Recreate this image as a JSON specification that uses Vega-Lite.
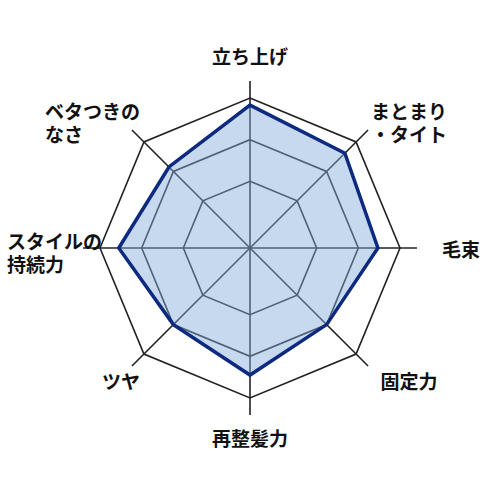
{
  "$schema": "https://vega.github.io/schema/vega-lite/v6.json",
  "width": 500,
  "height": 500,
  "autosize": "none",
  "padding": 0,
  "config": {
    "view": {"stroke": null},
    "text": {"font": "Noto Sans CJK JP", "fontWeight": "bold", "fontSize": 19, "lineHeight": 23, "color": "#111", "baseline": "middle"}
  },
  "datasets": {
    "axes": [
      {"i": 0, "label": "立ち上げ"},
      {"i": 1, "label": ["まとまり", "・タイト"]},
      {"i": 2, "label": "毛束"},
      {"i": 3, "label": "固定力"},
      {"i": 4, "label": "再整髪力"},
      {"i": 5, "label": "ツヤ"},
      {"i": 6, "label": ["スタイルの", "持続力"]},
      {"i": 7, "label": ["ベタつきの", "なさ"]}
    ],
    "scores": [
      {"i": 0, "score": 4.83},
      {"i": 1, "score": 4.62},
      {"i": 2, "score": 4.47},
      {"i": 3, "score": 4.0},
      {"i": 4, "score": 4.45},
      {"i": 5, "score": 4.0},
      {"i": 6, "score": 4.55},
      {"i": 7, "score": 4.15}
    ],
    "rings": [
      {"level": 3, "i": 0}, {"level": 3, "i": 1}, {"level": 3, "i": 2}, {"level": 3, "i": 3},
      {"level": 3, "i": 4}, {"level": 3, "i": 5}, {"level": 3, "i": 6}, {"level": 3, "i": 7},
      {"level": 4, "i": 0}, {"level": 4, "i": 1}, {"level": 4, "i": 2}, {"level": 4, "i": 3},
      {"level": 4, "i": 4}, {"level": 4, "i": 5}, {"level": 4, "i": 6}, {"level": 4, "i": 7},
      {"level": 5, "i": 0}, {"level": 5, "i": 1}, {"level": 5, "i": 2}, {"level": 5, "i": 3},
      {"level": 5, "i": 4}, {"level": 5, "i": 5}, {"level": 5, "i": 6}, {"level": 5, "i": 7}
    ]
  },
  "encoding": {
    "x": {"field": "x", "type": "quantitative", "scale": {"domain": [-1.6667, 1.6667], "nice": false, "zero": false}, "axis": null},
    "y": {"field": "y", "type": "quantitative", "scale": {"domain": [-1.68, 1.6533], "nice": false, "zero": false}, "axis": null}
  },
  "layer": [
    {
      "data": {"name": "rings"},
      "transform": [
        {"calculate": "PI / 2 - datum.i * PI / 4", "as": "t"},
        {"calculate": "(datum.level - 1.4) / 3.6 * cos(datum.t)", "as": "x"},
        {"calculate": "(datum.level - 1.4) / 3.6 * sin(datum.t)", "as": "y"}
      ],
      "mark": {"type": "line", "interpolate": "linear-closed", "stroke": "#222", "strokeWidth": 1.6},
      "encoding": {
        "detail": {"field": "level", "type": "nominal"},
        "order": {"field": "i", "type": "quantitative"}
      }
    },
    {
      "data": {"name": "axes"},
      "transform": [
        {"calculate": "PI / 2 - datum.i * PI / 4", "as": "t"},
        {"calculate": "1.113 * cos(datum.t)", "as": "x"},
        {"calculate": "1.113 * sin(datum.t)", "as": "y"}
      ],
      "mark": {"type": "rule", "stroke": "#222", "strokeWidth": 1.6},
      "encoding": {"x2": {"datum": 0}, "y2": {"datum": 0}}
    },
    {
      "data": {"name": "scores"},
      "transform": [
        {"calculate": "PI / 2 - datum.i * PI / 4", "as": "t"},
        {"calculate": "(datum.score - 1.4) / 3.6 * cos(datum.t)", "as": "x"},
        {"calculate": "(datum.score - 1.4) / 3.6 * sin(datum.t)", "as": "y"}
      ],
      "mark": {"type": "line", "interpolate": "linear-closed", "filled": true, "fill": "#83acdc", "fillOpacity": 0.46, "stroke": "#0d2a80", "strokeWidth": 3.5, "strokeJoin": "miter"},
      "encoding": {"order": {"field": "i", "type": "quantitative"}}
    },
    {
      "data": {"name": "axes"},
      "transform": [
        {"filter": "datum.i == 0 || datum.i == 4"},
        {"calculate": "PI / 2 - datum.i * PI / 4", "as": "t"},
        {"calculate": "1.273 * cos(datum.t)", "as": "x"},
        {"calculate": "1.273 * sin(datum.t)", "as": "y"}
      ],
      "mark": {"type": "text", "align": "center", "dy": 1},
      "encoding": {"text": {"field": "label"}}
    },
    {
      "data": {"name": "axes"},
      "transform": [
        {"filter": "datum.i == 1 || datum.i == 3"},
        {"calculate": "PI / 2 - datum.i * PI / 4", "as": "t"},
        {"calculate": "1.273 * cos(datum.t)", "as": "x"},
        {"calculate": "1.273 * sin(datum.t)", "as": "y"}
      ],
      "mark": {"type": "text", "align": "center", "dx": 24},
      "encoding": {"text": {"field": "label"}}
    },
    {
      "data": {"name": "axes"},
      "transform": [
        {"filter": "datum.i == 2"},
        {"calculate": "PI / 2 - datum.i * PI / 4", "as": "t"},
        {"calculate": "1.273 * cos(datum.t)", "as": "x"},
        {"calculate": "1.273 * sin(datum.t)", "as": "y"}
      ],
      "mark": {"type": "text", "align": "left", "dx": 1, "dy": 3},
      "encoding": {"text": {"field": "label"}}
    },
    {
      "data": {"name": "axes"},
      "transform": [
        {"filter": "datum.i == 5"},
        {"calculate": "PI / 2 - datum.i * PI / 4", "as": "t"},
        {"calculate": "1.273 * cos(datum.t)", "as": "x"},
        {"calculate": "1.273 * sin(datum.t)", "as": "y"}
      ],
      "mark": {"type": "text", "align": "center", "dx": 6},
      "encoding": {"text": {"field": "label"}}
    },
    {
      "data": {"name": "axes"},
      "transform": [
        {"filter": "datum.i == 6"},
        {"calculate": "PI / 2 - datum.i * PI / 4", "as": "t"},
        {"calculate": "1.273 * cos(datum.t)", "as": "x"},
        {"calculate": "1.273 * sin(datum.t)", "as": "y"}
      ],
      "mark": {"type": "text", "align": "left", "dx": -52, "dy": -5},
      "encoding": {"text": {"field": "label"}}
    },
    {
      "data": {"name": "axes"},
      "transform": [
        {"filter": "datum.i == 7"},
        {"calculate": "PI / 2 - datum.i * PI / 4", "as": "t"},
        {"calculate": "1.273 * cos(datum.t)", "as": "x"},
        {"calculate": "1.273 * sin(datum.t)", "as": "y"}
      ],
      "mark": {"type": "text", "align": "left", "dx": -70},
      "encoding": {"text": {"field": "label"}}
    }
  ]
}
